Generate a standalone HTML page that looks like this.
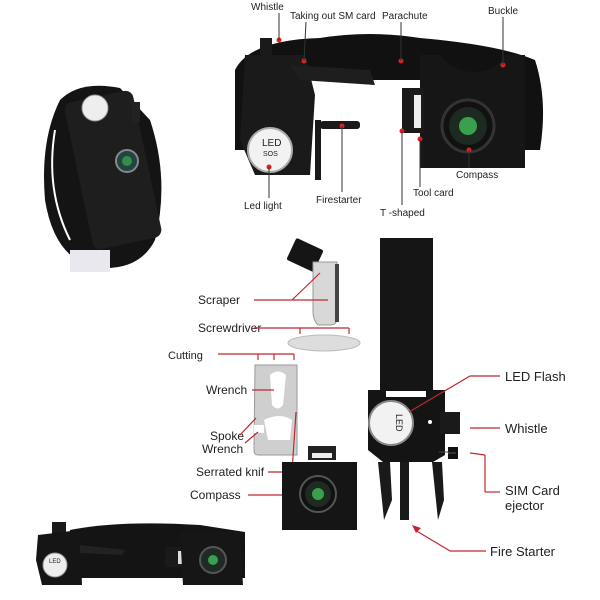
<!DOCTYPE html>
<html><head><meta charset="utf-8"><style>
html,body{margin:0;padding:0;background:#fff;}
svg{display:block;}
text{font-family:"Liberation Sans",sans-serif;fill:#222;}
</style></head><body>
<svg width="600" height="600" viewBox="0 0 600 600" xmlns="http://www.w3.org/2000/svg">
<rect width="600" height="600" fill="#fff"/>
<!-- top-left bracelet -->
<path d="M60 100 Q80 80 120 88 L150 120 Q170 180 155 240 Q140 270 100 268 Q55 262 45 200 Q40 140 60 100 Z" fill="#141414"/>
<path d="M55 130 Q45 190 70 240" stroke="#fff" stroke-width="2" fill="none"/>
<rect x="78" y="95" width="70" height="150" rx="8" fill="#1e1e1e" transform="rotate(-12 113 170)"/>
<circle cx="95" cy="108" r="13" fill="#eee" stroke="#999"/>
<circle cx="127" cy="161" r="11" fill="#244" stroke="#888" stroke-width="2"/>
<circle cx="127" cy="161" r="5" fill="#3a8a4a"/>
<rect x="132" y="102" width="8" height="20" fill="#222"/>
<rect x="70" y="250" width="40" height="22" fill="#e8e8ee"/>
<!-- top-right big bracelet -->
<path d="M235 70 Q250 40 320 38 Q370 30 420 38 Q500 45 535 60 Q548 100 540 150 L505 150 L505 80 L300 80 L300 150 L235 150 Z" fill="#111"/>
<rect x="260" y="38" width="12" height="20" fill="#1a1a1a"/>
<path d="M245 55 L305 55 L315 95 L310 175 L255 175 L240 140 Z" fill="#1a1a1a"/>
<path d="M290 65 L370 70 L375 85 L300 80 Z" fill="#1e1e1e"/>
<rect x="315" y="120" width="6" height="60" fill="#1a1a1a"/>
<rect x="320" y="121" width="40" height="8" rx="3" fill="#1a1a1a"/>
<path d="M420 55 L440 55 Q455 72 475 72 Q495 72 505 55 L525 55 L525 168 L420 168 Z" fill="#161616"/>
<rect x="402" y="88" width="22" height="45" fill="#1a1a1a"/>
<rect x="414" y="95" width="7" height="33" fill="#eee"/>
<circle cx="468" cy="126" r="26" fill="#111" stroke="#333" stroke-width="3"/>
<circle cx="468" cy="126" r="19" fill="#1c2a22"/>
<circle cx="468" cy="126" r="9" fill="#3aa050"/>
<circle cx="270" cy="150" r="22" fill="#f2f2f2" stroke="#aaa" stroke-width="2"/>
<text x="262" y="146" font-size="10" font-family="Liberation Serif">LED</text>
<text x="263" y="156" font-size="7" fill="#a33">SOS</text>
<g fill="#d22">
<circle cx="279" cy="40" r="2.5"/><circle cx="304" cy="61" r="2.5"/><circle cx="401" cy="61" r="2.5"/>
<circle cx="503" cy="65" r="2.5"/><circle cx="469" cy="150" r="2.5"/><circle cx="420" cy="139" r="2.5"/>
<circle cx="402" cy="131" r="2.5"/><circle cx="342" cy="126" r="2.5"/><circle cx="269" cy="167" r="2.5"/>
</g>
<g font-size="10">
<text x="251" y="10">Whistle</text>
<text x="290" y="19">Taking out SM card</text>
<text x="382" y="19">Parachute</text>
<text x="488" y="14">Buckle</text>
<text x="456" y="178">Compass</text>
<text x="413" y="196">Tool card</text>
<text x="380" y="216">T -shaped</text>
<text x="316" y="203">Firestarter</text>
<text x="244" y="209">Led light</text>
</g>
<g stroke="#333" stroke-width="1" fill="none">
<line x1="279" y1="13" x2="279" y2="40"/><line x1="306" y1="22" x2="304" y2="61"/>
<line x1="401" y1="22" x2="401" y2="61"/><line x1="503" y1="17" x2="503" y2="65"/>
<line x1="469" y1="168" x2="469" y2="150"/><line x1="420" y1="187" x2="420" y2="139"/>
<line x1="402" y1="205" x2="402" y2="131"/><line x1="342" y1="192" x2="342" y2="126"/>
<line x1="269" y1="198" x2="269" y2="167"/>
</g>
<!-- scraper -->
<rect x="290" y="243" width="30" height="24" rx="2" fill="#151515" transform="rotate(25 305 255)"/>
<path d="M313 262 L337 262 L337 318 Q337 325 330 325 L318 325 Q313 320 313 312 Z" fill="#d8d8d8" stroke="#999"/>
<rect x="335" y="264" width="4" height="58" fill="#444"/>
<ellipse cx="324" cy="343" rx="36" ry="8" fill="#ddd" stroke="#bbb"/>
<!-- tool card -->
<path d="M255 365 L297 365 L297 455 L258 455 Q254 455 254 450 Z" fill="#cfcfcf" stroke="#999"/>
<path d="M270 375 Q278 368 286 375 L283 405 Q278 412 272 405 Z" fill="#fff"/>
<path d="M264 420 Q280 412 292 420 L290 440 L268 440 Z" fill="#fff"/>
<rect x="254" y="425" width="10" height="8" fill="#fff"/>
<g font-size="12">
<text x="198" y="304">Scraper</text>
<text x="198" y="332">Screwdriver</text>
<text x="168" y="359" font-family="Liberation Serif" font-size="11">Cutting</text>
<text x="206" y="394">Wrench</text>
<text x="210" y="440">Spoke</text>
<text x="202" y="453">Wrench</text>
<text x="196" y="476">Serrated knif</text>
<text x="190" y="499">Compass</text>
</g>
<g stroke="#c0282d" stroke-width="1.2" fill="none">
<line x1="254" y1="300" x2="328" y2="300"/><line x1="292" y1="300" x2="320" y2="273"/>
<line x1="254" y1="328" x2="349" y2="328"/><line x1="300" y1="328" x2="300" y2="334"/><line x1="349" y1="328" x2="349" y2="334"/>
<line x1="218" y1="354" x2="294" y2="354"/><line x1="258" y1="354" x2="258" y2="360"/><line x1="274" y1="354" x2="274" y2="360"/><line x1="294" y1="354" x2="294" y2="360"/>
<line x1="252" y1="390" x2="274" y2="390"/>
<line x1="240" y1="435" x2="256" y2="418"/><line x1="245" y1="443" x2="258" y2="432"/>
<line x1="268" y1="472" x2="292" y2="472"/><line x1="292" y1="472" x2="296" y2="412"/>
<line x1="248" y1="495" x2="302" y2="495"/>
</g>
<!-- compass buckle bottom -->
<rect x="308" y="446" width="28" height="14" fill="#222"/>
<rect x="312" y="453" width="20" height="5" fill="#eee"/>
<path d="M282 462 L357 462 L357 530 L282 530 Z" fill="#151515"/>
<circle cx="318" cy="494" r="18" fill="#111" stroke="#555" stroke-width="2"/>
<circle cx="318" cy="494" r="13" fill="#1e2a22"/>
<circle cx="318" cy="494" r="6" fill="#3aa050"/>
<!-- vertical strap -->
<rect x="380" y="238" width="53" height="160" fill="#151515"/>
<path d="M368 390 L445 390 L445 455 L433 462 L383 462 L368 450 Z" fill="#141414"/>
<rect x="386" y="391" width="40" height="6" fill="#fff"/>
<rect x="440" y="412" width="20" height="22" fill="#1a1a1a"/>
<circle cx="430" cy="422" r="2" fill="#fff"/>
<circle cx="391" cy="423" r="22" fill="#f2f2f2" stroke="#888" stroke-width="2"/>
<text x="396" y="414" font-size="9" font-family="Liberation Serif" transform="rotate(90 396 414)">LED</text>
<path d="M378 462 L384 520 L392 500 L390 462 Z M432 462 L438 520 L444 500 L442 462 Z" fill="#1a1a1a"/>
<rect x="400" y="462" width="9" height="58" fill="#1a1a1a"/>
<rect x="448" y="447" width="10" height="12" fill="#111"/><line x1="448" y1="453" x2="456" y2="453" stroke="#333" stroke-width="2"/>
<line x1="449" y1="452" x2="439" y2="452" stroke="#444"/>
<g font-size="13">
<text x="505" y="381">LED Flash</text>
<text x="505" y="433">Whistle</text>
<text x="505" y="495">SIM Card</text>
<text x="505" y="510">ejector</text>
<text x="490" y="556">Fire Starter</text>
</g>
<g stroke="#c0282d" stroke-width="1.2" fill="none">
<line x1="500" y1="376" x2="470" y2="376"/><line x1="470" y1="376" x2="409" y2="412"/>
<line x1="500" y1="428" x2="470" y2="428"/>
<line x1="500" y1="492" x2="485" y2="492"/><line x1="485" y1="492" x2="485" y2="455"/><line x1="485" y1="455" x2="470" y2="453"/>
<line x1="486" y1="551" x2="450" y2="551"/><line x1="450" y1="551" x2="415" y2="530"/>
</g>
<path d="M412 525 L421 528 L416 533 Z" fill="#c0282d"/>
<!-- bottom bracelet -->
<path d="M70 530 Q120 520 200 525 L245 532 L245 578 L70 578 Z" fill="#141414"/>
<rect x="52" y="522" width="14" height="12" fill="#1a1a1a"/>
<path d="M38 535 L80 530 L82 585 L42 585 L36 560 Z" fill="#151515"/>
<path d="M80 545 L125 550 L122 555 L80 553 Z" fill="#222"/>
<circle cx="55" cy="565" r="12" fill="#eee" stroke="#999"/>
<text x="49" y="563" font-size="6" font-family="Liberation Serif">LED</text>
<rect x="165" y="547" width="20" height="20" fill="#1a1a1a"/>
<rect x="178" y="551" width="6" height="13" fill="#ddd"/>
<path d="M180 532 L240 532 L243 585 L183 585 Z" fill="#161616"/>
<circle cx="213" cy="560" r="13" fill="#1e2a22" stroke="#555" stroke-width="2"/>
<circle cx="213" cy="560" r="5" fill="#3aa050"/>
</svg>
</body></html>
